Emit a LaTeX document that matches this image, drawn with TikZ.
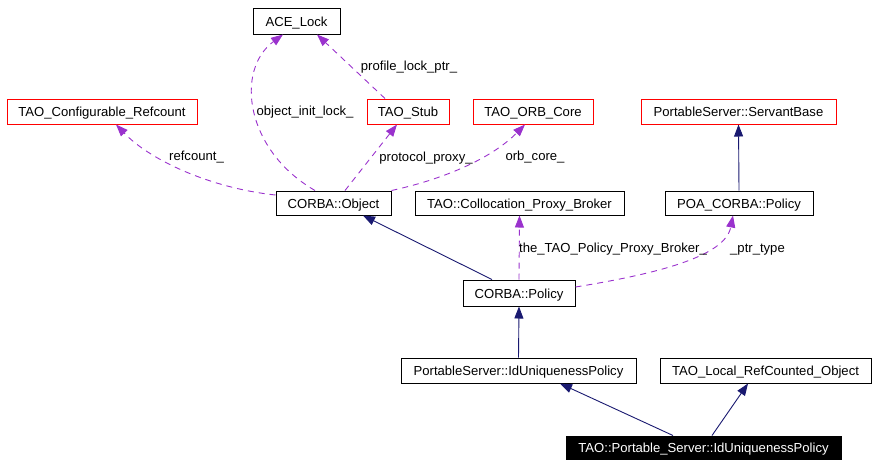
\documentclass[tikz,border=0pt]{standalone}
\usepackage{fontspec}
\setmainfont{Liberation Sans}
\usetikzlibrary{arrows.meta,calc}
\definecolor{inh}{HTML}{191970}
\definecolor{use}{HTML}{9A32CD}
\begin{document}
\begin{tikzpicture}[x=1pt,y=-1pt,
  box/.style={draw=black,line width=1pt,inner sep=0pt,minimum height=25pt,text height=10pt,text depth=0pt,font=\fontsize{13.1}{15}\selectfont},
  redbox/.style={box,draw=red},
  blackbox/.style={box,fill=black,text=white},
  inhedge/.style={draw=inh,line width=0.9pt,-{Triangle[length=12pt,width=9pt]}},
  useedge/.style={draw=use,line width=0.9pt,dash pattern=on 6pt off 5pt,-{Triangle[length=12pt,width=9pt]}},
  lbl/.style={anchor=base,inner sep=0pt,font=\fontsize{13.1}{15}\selectfont}]
\useasboundingbox (0,0) rectangle (877,467);
\node[box,minimum width=87pt,minimum height=26pt] (ace) at (296.5,21) {ACE\_Lock};
\node[redbox,minimum width=190pt] (conf) at (102,111.5) {TAO\_Configurable\_Refcount};
\node[redbox,minimum width=82pt] (stub) at (408,111.5) {TAO\_Stub};
\node[redbox,minimum width=120pt] (orb) at (533,111.5) {TAO\_ORB\_Core};
\node[redbox,minimum width=195pt] (sb) at (738.5,111.5) {PortableServer::ServantBase};
\node[box,minimum width=115pt,minimum height=24pt] (obj) at (333.5,203) {CORBA::Object};
\node[box,minimum width=209pt,minimum height=24pt] (coll) at (519.5,203) {TAO::Collocation\_Proxy\_Broker};
\node[box,minimum width=148pt,minimum height=24pt] (poa) at (739,203) {POA\_CORBA::Policy};
\node[box,minimum width=112pt,minimum height=26pt] (pol) at (519,293) {CORBA::Policy};
\node[box,minimum width=235pt] (iup) at (518.5,370.5) {PortableServer::IdUniquenessPolicy};
\node[box,minimum width=211pt] (loc) at (765.5,370.5) {TAO\_Local\_RefCounted\_Object};
\node[blackbox,minimum width=275pt,minimum height=23pt] (tps) at (703.5,447.5) {TAO::Portable\_Server::IdUniquenessPolicy};
% inheritance
\draw[inhedge] ($(pol.north)+(-27,0)$) -- ($(obj.south)+(29.5,0)$);
\draw[inhedge] (poa.north) -- (sb.south);
\draw[inhedge] (iup.north) -- (pol.south);
\draw[inhedge] ($(tps.north)+(-30.5,0)$) -- ($(iup.south)+(41.5,0)$);
\draw[inhedge] ($(tps.north)+(8.5,0)$) -- ($(loc.south)+(-17.5,0)$);
% usage
\draw[useedge] ($(obj.west)+(0,-8)$) .. controls (210,188) and (150,160) .. ($(conf.south)+(14,0)$);
\draw[useedge] ($(obj.north)+(-18.5,0)$) .. controls (245,150) and (235,70) .. ($(ace.south)+(-13.5,0)$);
\draw[useedge] ($(stub.north)+(-23,0)$) -- ($(ace.south)+(20.5,0)$);
\draw[useedge] ($(obj.north)+(11.5,0)$) -- ($(stub.south)+(-11,0)$);
\draw[useedge] (obj.north east) .. controls (440,180) and (490,160) .. ($(orb.south)+(-8,0)$);
\draw[useedge] (pol.north) -- (coll.south);
\draw[useedge] ($(pol.east)+(0,-6)$) .. controls (655,274) and (725,257) .. ($(poa.south)+(-6,0)$);
% labels
\node[lbl] (l1) at (196.5,160) {refcount\_};
\node[lbl] (l2) at (305,115) {object\_init\_lock\_};
\node[lbl] (l3) at (409,70) {profile\_lock\_ptr\_};
\node[lbl] (l4) at (426,161) {protocol\_proxy\_};
\node[lbl] (l5) at (535,160) {orb\_core\_};
\node[lbl] (l6) at (613,252) {the\_TAO\_Policy\_Proxy\_Broker\_};
\node[lbl] (l7) at (757.5,252) {\_ptr\_type};
\end{tikzpicture}
\end{document}
